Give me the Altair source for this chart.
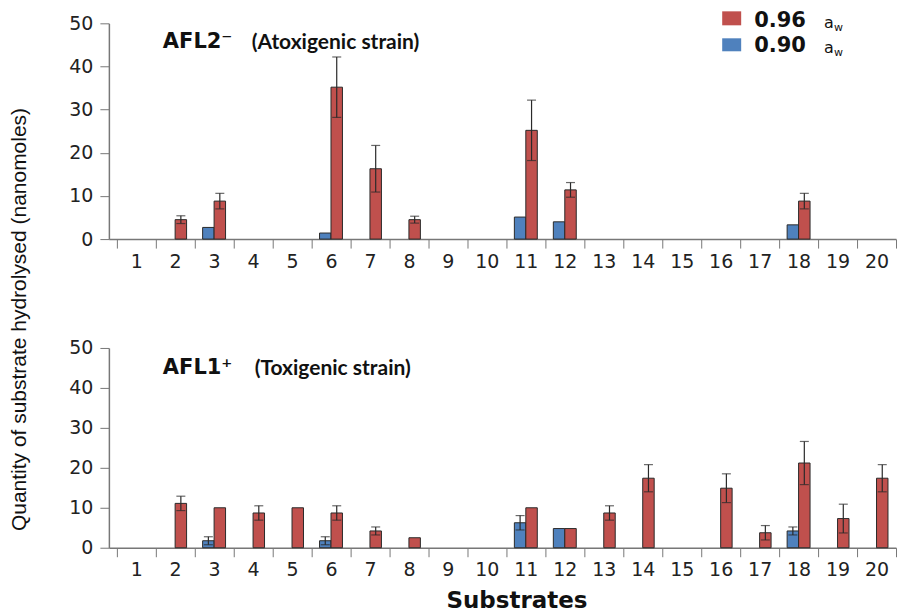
import altair as alt
import pandas as pd

substrates = [str(i) for i in range(1, 21)]
series = ["0.90", "0.96"]
series_colors = ["#4F81BD", "#C0504D"]

# AFL2- (atoxigenic strain)
afl2_090 = [0, 0, 2.7, 0, 0, 1.4, 0, 0, 0, 0, 5.1, 4.0, 0, 0, 0, 0, 0, 3.3, 0, 0]
afl2_090_err = [0] * 20
afl2_096 = [0, 4.5, 8.8, 0, 0, 35.2, 16.3, 4.5, 0, 0, 25.2, 11.4, 0, 0, 0, 0, 0, 8.8, 0, 0]
afl2_096_err = [0, 0.9, 1.8, 0, 0, 7.0, 5.4, 0.8, 0, 0, 7.0, 1.7, 0, 0, 0, 0, 0, 1.8, 0, 0]

# AFL1+ (toxigenic strain)
afl1_090 = [0, 0, 1.75, 0, 0, 1.75, 0, 0, 0, 0, 6.25, 4.8, 0, 0, 0, 0, 0, 4.2, 0, 0]
afl1_090_err = [0, 0, 1.0, 0, 0, 1.0, 0, 0, 0, 0, 1.8, 0, 0, 0, 0, 0, 0, 1.0, 0, 0]
afl1_096 = [0, 11.1, 10.0, 8.7, 10.0, 8.7, 4.2, 2.5, 0, 0, 10.0, 4.8, 8.7, 17.4, 0, 14.9, 3.75, 21.2, 7.3, 17.4]
afl1_096_err = [0, 1.8, 0, 1.8, 0, 1.8, 1.0, 0, 0, 0, 0, 0, 1.8, 3.4, 0, 3.6, 1.8, 5.4, 3.6, 3.4]

y_ticks = [0, 10, 20, 30, 40, 50]

PLOT_W = 788
TICK_FONT = "DejaVu Sans"


def make_df(v090, e090, v096, e096):
    rows = []
    for i, s in enumerate(substrates):
        rows.append(dict(substrate=s, series="0.90", value=v090[i], err=e090[i]))
        rows.append(dict(substrate=s, series="0.96", value=v096[i], err=e096[i]))
    df = pd.DataFrame(rows)
    df["lo"] = df["value"] - df["err"]
    df["hi"] = df["value"] + df["err"]
    return df


def panel(df, label_bold, label_rest, rest_x, base_bold, base_rest, height, top, bottom):
    x_axis = alt.Axis(
        title="Substrates" if bottom else None,
        labelAngle=0, tickBand="extent", tickSize=9, labelPadding=4,
        labelFont=TICK_FONT, labelFontSize=19, labelColor="#222",
        domainColor="#777", tickColor="#777", domainWidth=1.5,
        titleFont="DejaVu Sans", titleFontSize=23, titleFontWeight="bold",
        titleColor="#111", titlePadding=10, titleX=408,
    )
    y_axis = alt.Axis(
        values=y_ticks, grid=False, tickSize=9, labelPadding=7, labelOverlap=False,
        labelFont=TICK_FONT, labelFontSize=19, labelColor="#222",
        domainColor="#777", tickColor="#777", domainWidth=1.5,
        title="Quantity of substrate hydrolysed (nanomoles)" if top else None,
        titleFont="Liberation Sans", titleFontSize=21, titleFontWeight="normal",
        titleColor="#111", titlePadding=39, titleY=296,
    )
    xenc = alt.X("substrate:N", sort=substrates,
                 scale=alt.Scale(domain=substrates, paddingInner=0, paddingOuter=0.1, align=1),
                 axis=x_axis)
    xoff = alt.XOffset("series:N", scale=alt.Scale(domain=series, paddingInner=0, paddingOuter=0.7))
    yscale = alt.Scale(domain=[0, 50], nice=False)

    base = alt.Chart(df).encode(x=xenc, xOffset=xoff)
    bars = base.transform_filter("datum.value > 0").mark_bar(
        stroke="#2a2a2a", strokeWidth=1
    ).encode(
        y=alt.Y("value:Q", scale=yscale, axis=y_axis),
        color=alt.Color("series:N", scale=alt.Scale(domain=series, range=series_colors), legend=None),
    )
    errs = base.transform_filter("datum.err > 0")
    rule = errs.mark_rule(color="#2a2a2a", strokeWidth=1.2).encode(
        y=alt.Y("lo:Q", scale=yscale, axis=y_axis), y2="hi:Q")
    cap_hi = errs.mark_tick(color="#2a2a2a", size=9, thickness=1.2).encode(
        y=alt.Y("hi:Q", scale=yscale, axis=y_axis))
    cap_lo = errs.mark_tick(color="#2a2a2a", size=9, thickness=1.2).encode(
        y=alt.Y("lo:Q", scale=yscale, axis=y_axis))

    t1 = alt.Chart(pd.DataFrame({"t": [label_bold]})).mark_text(
        align="left", baseline="alphabetic", font="DejaVu Sans", fontSize=21,
        fontWeight="bold", color="#111"
    ).encode(text="t:N", x=alt.value(54), y=alt.value(base_bold))
    t2 = alt.Chart(pd.DataFrame({"t": [label_rest]})).mark_text(
        align="left", baseline="alphabetic", font="Lato", fontSize=21,
        fontWeight="bold", color="#111"
    ).encode(text="t:N", x=alt.value(rest_x), y=alt.value(base_rest))

    layers = [bars, rule, cap_hi, cap_lo, t1, t2]

    if top:
        leg_labels = ["0.96", "0.90"]
        leg_colors = ["#C0504D", "#4F81BD"]
        rect_y = [(-12, 2), (15, 28)]
        base_y = [4, 29]
        for lab, col, (ya, yb), by in zip(leg_labels, leg_colors, rect_y, base_y):
            r = alt.Chart(pd.DataFrame({"s": [lab]})).mark_rect(color=col).encode(
                x=alt.value(614), x2=alt.value(633), y=alt.value(ya), y2=alt.value(yb))
            tl = alt.Chart(pd.DataFrame({"t": [lab]})).mark_text(
                align="left", baseline="alphabetic", font="DejaVu Sans", fontSize=21,
                fontWeight="bold", color="#111"
            ).encode(text="t:N", x=alt.value(646), y=alt.value(by))
            ta = alt.Chart(pd.DataFrame({"t": ["a"]})).mark_text(
                align="left", baseline="alphabetic", font="DejaVu Sans", fontSize=16,
                color="#111"
            ).encode(text="t:N", x=alt.value(716), y=alt.value(by + 1))
            tw = alt.Chart(pd.DataFrame({"t": ["w"]})).mark_text(
                align="left", baseline="alphabetic", font="DejaVu Sans", fontSize=11,
                color="#111"
            ).encode(text="t:N", x=alt.value(726), y=alt.value(by + 4))
            layers += [r, tl, ta, tw]

    return alt.layer(*layers).properties(width=PLOT_W, height=height)


top_df = make_df(afl2_090, afl2_090_err, afl2_096, afl2_096_err)
bot_df = make_df(afl1_090, afl1_090_err, afl1_096, afl1_096_err)

top_chart = panel(top_df, "AFL2\u207b", "(Atoxigenic strain)", 143, 25, 26, 216, True, False)
bot_chart = panel(bot_df, "AFL1\u207a", "(Toxigenic strain)", 146, 26, 27, 200, False, True)

chart = alt.vconcat(top_chart, bot_chart, spacing=109, bounds="flush").properties(
    padding={"left": 0, "top": 2, "right": 5, "bottom": 0},
    background="white",
).configure_view(stroke=None)

chart.save("out.html", embed_options={"renderer": "svg", "actions": False})
